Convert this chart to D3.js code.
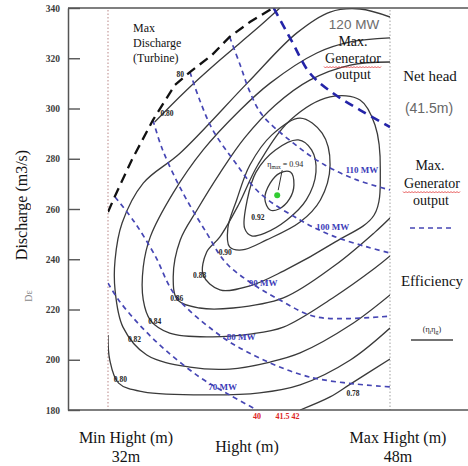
<!DOCTYPE html>
<html>
<head>
<meta charset="utf-8">
<script src="https://cdn.jsdelivr.net/npm/d3@7/dist/d3.min.js"></script>
<style>
  body { margin: 0; background: #fff; }
  svg { display: block; font-family: "Liberation Serif", "Times New Roman", serif; }
  text { opacity: 0.99; }
</style>
</head>
<body>
<svg id="chart" width="468" height="466"></svg>
<script>

// axis values
const heightRange = [32, 48];          // min / max net head (m)
const dischargeRange = [180, 340];     // m3/s
const dischargeTicks = [180, 200, 220, 240, 260, 280, 300, 320, 340];

// efficiency contours, [height (m), discharge (m3/s)]
const eff094 = [[42.35,274.7],[42.55,269.6],[42.3,264.0],[41.7,260.0],[41.2,259.6],[40.9,264.0],[41.2,270.3],[41.75,274.3]];
const eff092 = [[42.8,287.5],[43.55,283.5],[43.8,274.7],[43.25,263.6],[42.15,255.6],[40.9,250.4],[40.15,249.3],[39.75,252.4],[39.9,263.6],[40.4,274.7],[41.5,283.5]];
const eff090 = [[42.9,296.2],[44.15,290.2],[44.6,277.5],[44.05,263.6],[42.9,254.8],[41.0,247.7],[39.6,243.7],[38.9,244.9],[38.8,252.4],[39.3,263.6],[40.05,277.5],[41.3,289.5]];
const eff088 = [[44.6,304.6],[46.3,303.4],[47.15,293.4],[47.45,275.5],[47.1,257.6],[44.9,246.9],[41.95,235.3],[40.05,229.4],[38.35,227.8],[37.4,233.7],[37.6,242.9],[38.35,248.9],[39.4,261.6],[40.5,277.5],[42.35,295.4]];
const eff086 = [[48.0,318.5],[45.75,317.3],[43.45,311.3],[41.5,301.4],[39.75,288.3],[38.35,274.3],[37.05,259.6],[36.1,247.7],[35.7,232.9],[35.95,223.8],[37.2,220.6],[39.1,220.6],[41.95,224.6],[44.9,237.7],[47.15,250.8],[48.0,256.4]];
const eff084 = [[48.0,328.1],[45.75,326.5],[43.85,322.1],[41.2,310.1],[39.5,299.4],[37.4,283.5],[35.7,266.4],[34.4,248.9],[34.0,236.9],[34.0,223.8],[34.4,215.8],[35.5,210.6],[37.8,209.1],[40.05,210.2],[41.95,213.0],[44.75,224.6],[47.15,236.5],[48.0,241.3]];
const eff082 = [[48.0,336.4],[46.3,339.6],[44.6,338.4],[42.7,330.0],[39.9,310.1],[36.1,282.3],[34.0,270.3],[32.8,254.4],[32.4,239.7],[32.4,227.8],[32.85,213.0],[34.2,201.9],[36.65,197.1],[38.9,196.3],[41.2,199.1],[42.9,202.7],[45.75,213.8],[48.0,225.8]];
const eff080 = [[32.0,209.9],[32.1,199.9],[32.6,190.7],[34.0,187.2],[37.8,186.0],[40.6,186.8],[42.9,190.0],[45.75,199.9],[48.0,212.6]];
const eff080Upper = [[34.65,294.6],[36.35,306.6],[38.35,319.3],[40.35,331.2],[41.75,340.0]];
const eff078 = [[42.9,180.0],[44.6,185.2],[45.75,190.3],[48.0,200.3]];

// max generator output lines (MW)
const power070 = [[32.0,230.5],[32.6,223.8],[33.8,213.8],[35.25,203.9],[37.2,193.1],[38.9,186.0],[40.45,180.0]];
const power080 = [[32.4,264.8],[33.5,254.8],[34.65,241.7],[35.8,225.8],[37.95,211.8],[39.9,203.1],[43.45,193.1],[48.0,189.2]];
const power090 = [[34.55,295.4],[35.1,283.5],[36.25,266.4],[37.6,250.4],[38.65,238.9],[40.05,230.9],[41.75,223.8],[43.85,217.0],[48.0,217.4]];
const power100 = [[36.65,314.5],[37.2,303.4],[37.95,291.4],[39.2,278.7],[40.6,266.4],[42.9,255.6],[44.75,249.3],[46.7,244.9],[48.0,242.5]];
const power110 = [[38.9,328.5],[39.5,317.3],[40.05,306.6],[40.75,297.4],[42.5,286.3],[44.3,277.5],[46.15,271.5],[48.0,267.6]];
const power120 = [[41.4,340.0],[42.45,326.5],[43.45,314.1],[44.75,306.2],[46.3,299.4],[48.0,292.6]];

// max discharge (turbine)
const maxDischarge = [[32.0,258.8],[32.4,265.2],[33.35,279.5],[34.55,295.4],[35.8,309.4],[36.65,314.5],[37.9,321.3],[38.9,328.5],[40.05,334.4],[41.35,340.0]];

// best efficiency point
const bestPoint = [41.6, 265.5];

// labels: [text, height, discharge]
const effLabels = [
  ["0.92", 40.5, 256.8], ["0.90", 38.65, 242.9], ["0.88", 37.2, 233.7], ["0.86", 35.9, 224.6],
  ["0.84", 34.65, 215.4], ["0.82", 33.5, 208.3], ["0.80", 32.7, 192.3], ["0.80", 35.35, 298.2],
  ["0.78", 45.9, 186.8], ["80", 36.1, 313.7]
];
const powerLabels = [
  ["110 MW", 46.4, 275.5], ["100 MW", 44.75, 252.8], ["90 MW", 40.8, 230.5],
  ["80 MW", 39.55, 209.1], ["70 MW", 38.5, 189.2]
];

const svg = d3.select("#chart");

const x = d3.scaleLinear().domain(heightRange).range([108, 390]);
const y = d3.scaleLinear().domain(dischargeRange).range([410, 8]);

const frameLeft = 68;

svg.append("defs").append("clipPath").attr("id", "plot-clip")
  .append("rect")
  .attr("x", x(heightRange[0]))
  .attr("y", y(dischargeRange[1]))
  .attr("width", x(heightRange[1]) - x(heightRange[0]))
  .attr("height", y(dischargeRange[0]) - y(dischargeRange[1]));

// min / max height dotted lines
svg.append("g")
  .selectAll("line")
  .data(heightRange)
  .join("line")
  .attr("x1", d => x(d)).attr("x2", d => x(d))
  .attr("y1", y(dischargeRange[1]) + 2).attr("y2", y(dischargeRange[0]))
  .attr("stroke", (d, i) => i === 0 ? "#d4b4b4" : "#c4c4c4")
  .attr("stroke-width", 1.6)
  .attr("stroke-dasharray", "1.5,2");

const plot = svg.append("g").attr("clip-path", "url(#plot-clip)");

const openLine = d3.line().x(d => x(d[0])).y(d => y(d[1])).curve(d3.curveCatmullRom.alpha(0.5));
const closedLine = d3.line().x(d => x(d[0])).y(d => y(d[1])).curve(d3.curveCatmullRomClosed.alpha(0.5));

// efficiency contours
const closedContours = [eff094, eff092, eff090, eff088];
const openContours = [eff086, eff084, eff082, eff080, eff080Upper, eff078];

plot.append("g")
  .selectAll("path")
  .data(closedContours)
  .join("path")
  .attr("d", closedLine)
  .attr("fill", "none")
  .attr("stroke", "#3a3a3a")
  .attr("stroke-width", 1.3);

plot.append("g")
  .selectAll("path")
  .data(openContours)
  .join("path")
  .attr("d", openLine)
  .attr("fill", "none")
  .attr("stroke", "#3a3a3a")
  .attr("stroke-width", 1.3);

// generator output lines
plot.append("g")
  .selectAll("path")
  .data([power070, power080, power090, power100, power110])
  .join("path")
  .attr("d", openLine)
  .attr("fill", "none")
  .attr("stroke", "#4646b4")
  .attr("stroke-width", 1.7)
  .attr("stroke-dasharray", "5,4");

plot.append("path")
  .datum(power120)
  .attr("d", openLine)
  .attr("fill", "none")
  .attr("stroke", "#2424a8")
  .attr("stroke-width", 2.6)
  .attr("stroke-dasharray", "9,6");

// max discharge
plot.append("path")
  .datum(maxDischarge)
  .attr("d", d3.line().x(d => x(d[0])).y(d => y(d[1])))
  .attr("fill", "none")
  .attr("stroke", "#111")
  .attr("stroke-width", 2.3)
  .attr("stroke-dasharray", "10,6");

// frame
const frame = svg.append("g").attr("stroke", "#555").attr("stroke-width", 1.5);
frame.append("line").attr("x1", frameLeft).attr("x2", 468).attr("y1", y(dischargeRange[0])).attr("y2", y(dischargeRange[0]));
frame.append("line").attr("x1", frameLeft).attr("x2", 468).attr("y1", y(dischargeRange[1])).attr("y2", y(dischargeRange[1]));

const yAxis = d3.axisLeft(y)
  .tickValues(dischargeTicks)
  .tickSizeInner(-12)
  .tickSizeOuter(0)
  .tickPadding(8)
  .tickFormat(d3.format("d"));

svg.append("g")
  .attr("transform", `translate(${frameLeft},0)`)
  .call(yAxis)
  .call(g => g.select(".domain").attr("stroke", "#555").attr("stroke-width", 1.5))
  .call(g => g.selectAll(".tick line").attr("stroke", "#555").attr("stroke-width", 1.4))
  .call(g => g.selectAll(".tick text")
    .attr("font-family", "Liberation Serif, serif")
    .attr("font-size", 9.5)
    .attr("font-weight", "bold")
    .attr("fill", "#3a3a3a"));

// contour labels
svg.append("g")
  .selectAll("text")
  .data(effLabels)
  .join("text")
  .attr("x", d => x(d[1]))
  .attr("y", d => y(d[2]))
  .attr("text-anchor", "middle")
  .attr("dy", "0.35em")
  .attr("font-size", 7.5)
  .attr("font-weight", "bold")
  .attr("fill", "#222")
  .text(d => d[0]);

svg.append("g")
  .selectAll("text")
  .data(powerLabels)
  .join("text")
  .attr("x", d => x(d[1]))
  .attr("y", d => y(d[2]))
  .attr("text-anchor", "middle")
  .attr("dy", "0.35em")
  .attr("font-size", 9)
  .attr("font-weight", "bold")
  .attr("fill", "#3a3ab8")
  .text(d => d[0]);

// best efficiency point
const etaLabel = svg.append("text")
  .attr("x", x(bestPoint[0]) - 10)
  .attr("y", y(bestPoint[1]) - 28)
  .attr("font-size", 8)
  .attr("fill", "#222");
etaLabel.append("tspan").text("η");
etaLabel.append("tspan").attr("font-size", 5.5).attr("dy", 2).text("max");
etaLabel.append("tspan").attr("dy", -2).text(" = 0.94");

svg.append("line")
  .attr("x1", x(bestPoint[0]) + 5).attr("y1", y(bestPoint[1]) - 25)
  .attr("x2", x(bestPoint[0]) + 1).attr("y2", y(bestPoint[1]) - 5)
  .attr("stroke", "#333").attr("stroke-width", 1);

svg.append("circle")
  .attr("cx", x(bestPoint[0]))
  .attr("cy", y(bestPoint[1]))
  .attr("r", 3)
  .attr("fill", "#33cc33");

// red labels where 70 MW line meets the axis
const lastPoint = power070[power070.length - 1];
svg.append("text")
  .attr("x", x(lastPoint[0]))
  .attr("y", y(lastPoint[1]) + 9)
  .attr("text-anchor", "middle")
  .attr("font-size", 8).attr("font-weight", "bold").attr("fill", "#dd2222")
  .text("40");
svg.append("text")
  .attr("x", x(41.5))
  .attr("y", y(lastPoint[1]) + 9)
  .attr("font-size", 8).attr("font-weight", "bold").attr("fill", "#dd2222")
  .text("41.5 42");

// titles and notes
const addText = (txt, px, py, opts = {}) => svg.append("text")
  .attr("x", px).attr("y", py)
  .attr("text-anchor", opts.anchor || "middle")
  .attr("font-size", opts.size || 15)
  .attr("font-family", opts.family || "Liberation Serif, serif")
  .attr("fill", opts.fill || "#111")
  .attr("transform", opts.rotate ? `rotate(-90,${px},${py})` : null)
  .text(txt);

addText("Discharge (m3/s)", 27, 205, {rotate: true, size: 16});
addText("Dε", 32, 296, {rotate: true, size: 10, fill: "#888"});

addText("Min Hight (m)", 126, 443, {size: 16});
addText("32m", 126, 462, {size: 16});
addText("Hight (m)", 247, 452, {size: 16});
addText("Max Hight (m)", 398, 443, {size: 16});
addText("48m", 398, 462, {size: 16});

addText("Max", 133, 32, {anchor: "start", size: 12});
addText("Discharge", 133, 47, {anchor: "start", size: 12});
addText("(Turbine)", 133, 62, {anchor: "start", size: 12});

addText("120 MW", 354, 29, {size: 13.5, family: "Liberation Sans, Arial, sans-serif", fill: "#6a6a6a"});
addText("Max.", 353, 46, {size: 14});
addText("Generator", 353, 63, {size: 14});
addText("output", 353, 79, {size: 14});

addText("Net head", 430, 81, {size: 15});
addText("(41.5m)", 429, 113, {size: 14, family: "Liberation Sans, Arial, sans-serif", fill: "#666"});

addText("Max.", 430, 170, {size: 14});
addText("Generator", 432, 188, {size: 14});
addText("output", 431, 205, {size: 14});

svg.append("line")
  .attr("x1", 410).attr("x2", 455).attr("y1", 228).attr("y2", 228)
  .attr("stroke", "#4646b4").attr("stroke-width", 1.7).attr("stroke-dasharray", "5,4");

addText("Efficiency", 432, 286, {size: 15});
const etaLegend = svg.append("text").attr("x", 432).attr("y", 332)
  .attr("text-anchor", "middle").attr("font-size", 8).attr("fill", "#222");
etaLegend.append("tspan").text("(η");
etaLegend.append("tspan").attr("font-size", 6).attr("dy", 2).text("t");
etaLegend.append("tspan").attr("dy", -2).text("η");
etaLegend.append("tspan").attr("font-size", 6).attr("dy", 2).text("g");
etaLegend.append("tspan").attr("dy", -2).text(")");
svg.append("line")
  .attr("x1", 411).attr("x2", 453).attr("y1", 340).attr("y2", 340)
  .attr("stroke", "#444").attr("stroke-width", 1.5);

// spell-check squiggles under "Generator"
const squiggle = (x0, x1, yy) => {
  const pts = d3.range(x0, x1, 1.5).map((px, i) => [px, yy + (i % 2 ? 1 : -0.5)]);
  svg.append("path").attr("d", d3.line()(pts)).attr("fill", "none").attr("stroke", "#e03030").attr("stroke-width", 0.8);
};
squiggle(324, 382, 67);
squiggle(403, 461, 192);

</script>
</body>
</html>
